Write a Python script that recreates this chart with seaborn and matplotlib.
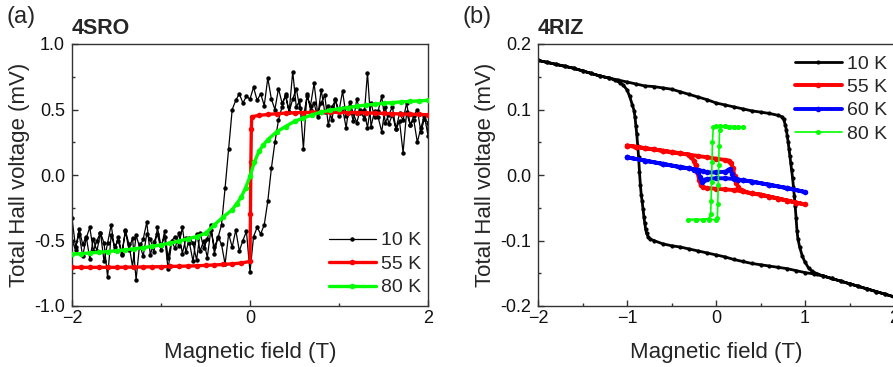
import numpy as np
import pandas as pd
import matplotlib
matplotlib.use("Agg")
import matplotlib.pyplot as plt
import seaborn as sns
from matplotlib.ticker import MultipleLocator

# ---------------- data: panel (a) 4SRO ----------------
# 10 K: sweep up (-2 -> 2, step 0.04) followed by sweep down (2 -> -2)
a10_field_up = [round(-2 + 0.04 * i, 2) for i in range(101)]
a10_up = [-0.33, -0.55, -0.45, -0.62, -0.48, -0.40, -0.58, -0.50, -0.44, -0.66,
          -0.52, -0.38, -0.57, -0.47, -0.60, -0.42, -0.53, -0.70, -0.46, -0.55,
          -0.49, -0.36, -0.61, -0.51, -0.45, -0.57, -0.43, -0.63, -0.50, -0.47,
          -0.54, -0.40, -0.59, -0.48, -0.52, -0.65, -0.44, -0.56, -0.49, -0.38,
          -0.60, -0.47, -0.53, -0.68, -0.45, -0.55, -0.42, -0.58, -0.50, -0.43,
          -0.74, -0.47, -0.40,
          -0.45, -0.38, -0.20, 0.05, 0.25, 0.42, 0.52,
          0.62, 0.48, 0.58, 0.66, 0.51, 0.44, 0.60, 0.53, 0.70, 0.47,
          0.55, 0.61, 0.38, 0.52, 0.57, 0.49, 0.64, 0.45, 0.53, 0.41,
          0.58, 0.47, 0.50, 0.36, 0.55, 0.44, 0.49, 0.60, 0.40, 0.46,
          0.52, 0.35, 0.47, 0.42, 0.55, 0.38, 0.45, 0.50, 0.33, 0.43,
          0.40]
a10_field_down = [round(2 - 0.04 * i, 2) for i in range(101)]
a10_down = [0.30, 0.45, 0.36, 0.25, 0.42, 0.38, 0.48, 0.17, 0.41, 0.35,
            0.46, 0.39, 0.52, 0.33, 0.44, 0.49, 0.37, 0.78, 0.43, 0.50,
            0.40, 0.47, 0.56, 0.36, 0.51, 0.45, 0.58, 0.42, 0.53, 0.48,
            0.65, 0.44, 0.55, 0.50, 0.62, 0.20, 0.57, 0.52, 0.79, 0.48,
            0.60, 0.55, 0.66, 0.50, 0.58, 0.74, 0.53, 0.62, 0.57, 0.67,
            0.58, 0.60, 0.55, 0.62, 0.57,
            0.50, 0.20, -0.10, -0.38, -0.48,
            -0.55, -0.42, -0.63, -0.50, -0.58, -0.45, -0.66, -0.52, -0.48, -0.60,
            -0.44, -0.56, -0.51, -0.72, -0.47, -0.54, -0.40, -0.59, -0.49, -0.45,
            -0.62, -0.53, -0.80, -0.48, -0.57, -0.43, -0.61, -0.50, -0.55, -0.46,
            -0.78, -0.52, -0.44, -0.58, -0.49, -0.64, -0.47, -0.53, -0.41, -0.57,
            -0.50]

# 55 K
a55_field = [-2.0, -1.9, -1.8, -1.7, -1.6, -1.5, -1.4, -1.3, -1.2, -1.1, -1.0,
             -0.9, -0.8, -0.7, -0.6, -0.5, -0.4, -0.3, -0.2, -0.1, 0.0,
             0.005, 0.01, 0.015, 0.02, 0.1, 0.2, 0.3, 0.4, 0.5, 0.6, 0.7, 0.8, 0.9,
             1.0, 1.1, 1.2, 1.3, 1.4, 1.5, 1.6, 1.7, 1.8, 1.9, 2.0]
a55_volt = [-0.705, -0.705, -0.705, -0.705, -0.705, -0.705, -0.704, -0.703, -0.702,
            -0.701, -0.700, -0.698, -0.697, -0.695, -0.693, -0.690, -0.687, -0.683,
            -0.678, -0.672, -0.660,
            -0.30, 0.10, 0.35, 0.445, 0.455, 0.462, 0.468, 0.472, 0.475, 0.477,
            0.478, 0.479, 0.479, 0.478, 0.477, 0.476, 0.474, 0.472, 0.470, 0.468,
            0.466, 0.464, 0.462, 0.460]

# 80 K
a80_field = [-2.0, -1.9, -1.8, -1.7, -1.6, -1.5, -1.4, -1.3, -1.2, -1.1, -1.0,
             -0.9, -0.8, -0.7, -0.6, -0.5, -0.4, -0.3, -0.2, -0.15, -0.1, -0.05,
             0.0, 0.05, 0.1, 0.15, 0.2, 0.3, 0.4, 0.5, 0.6, 0.7, 0.8, 0.9, 1.0,
             1.1, 1.2, 1.3, 1.4, 1.5, 1.6, 1.7, 1.8, 1.9, 2.0]
a80_volt = [-0.605, -0.600, -0.595, -0.590, -0.584, -0.578, -0.571, -0.563, -0.555,
            -0.545, -0.533, -0.520, -0.505, -0.487, -0.470, -0.445, -0.38, -0.32,
            -0.265, -0.22, -0.17, -0.10, -0.01, 0.10, 0.18, 0.23, 0.27, 0.33, 0.37,
            0.41, 0.435, 0.46, 0.48, 0.495, 0.505, 0.515, 0.525, 0.533, 0.540,
            0.547, 0.553, 0.558, 0.562, 0.566, 0.570]

# ---------------- data: panel (b) 4RIZ ----------------
b10_field = [-2.0, -1.9, -1.8, -1.7, -1.6, -1.5, -1.4, -1.3, -1.2, -1.1, -1.0, -0.9,
             -0.8, -0.7, -0.6, -0.5, -0.4, -0.3, -0.2, -0.1, 0.0, 0.1, 0.2, 0.3, 0.4,
             0.5, 0.6, 0.7, 0.74, 0.76, 0.78, 0.79, 0.80, 0.81, 0.82, 0.83, 0.84,
             0.85, 0.86, 0.87, 0.88, 0.89, 0.90, 0.91, 0.92, 0.94, 0.97, 1.0, 1.04,
             1.08, 1.14, 1.2, 1.3, 1.4, 1.5, 1.6, 1.7, 1.8, 1.9, 2.0,
             1.9, 1.8, 1.7, 1.6, 1.5, 1.4, 1.3, 1.2, 1.1, 1.0, 0.9, 0.8, 0.7, 0.6,
             0.5, 0.4, 0.3, 0.2, 0.1, 0.0, -0.1, -0.2, -0.3, -0.4, -0.5, -0.6, -0.7,
             -0.74, -0.76, -0.78, -0.79, -0.80, -0.81, -0.82, -0.83, -0.84, -0.85,
             -0.86, -0.87, -0.88, -0.89, -0.90, -0.91, -0.92, -0.94, -0.97, -1.0,
             -1.04, -1.08, -1.14, -1.2, -1.3, -1.4, -1.5, -1.6, -1.7, -1.8, -1.9, -2.0]
b10_volt = [0.175, 0.172, 0.169, 0.166, 0.163, 0.159, 0.155, 0.151, 0.148, 0.145,
            0.142, 0.139, 0.136, 0.135, 0.133, 0.131, 0.127, 0.123, 0.119, 0.115,
            0.110, 0.107, 0.104, 0.101, 0.098, 0.096, 0.094, 0.091, 0.089, 0.085,
            0.076, 0.069, 0.060, 0.051, 0.040, 0.029, 0.018, 0.007, -0.004, -0.018,
            -0.032, -0.048, -0.066, -0.085, -0.097, -0.110, -0.124, -0.133, -0.142,
            -0.147, -0.151, -0.154, -0.158, -0.162, -0.166, -0.170, -0.174, -0.178,
            -0.182, -0.186,
            -0.182, -0.178, -0.174, -0.170, -0.166, -0.162, -0.158, -0.154, -0.151,
            -0.149, -0.146, -0.143, -0.141, -0.139, -0.137, -0.135, -0.132, -0.129,
            -0.125, -0.122, -0.119, -0.116, -0.113, -0.110, -0.108, -0.105, -0.100,
            -0.098, -0.095, -0.089, -0.083, -0.074, -0.064, -0.052, -0.040, -0.030,
            -0.015, 0.005, 0.028, 0.045, 0.062, 0.075, 0.088, 0.098, 0.107, 0.120,
            0.130, 0.137, 0.141, 0.145, 0.148, 0.151, 0.155, 0.159, 0.163, 0.166,
            0.169, 0.172, 0.175]

b55_field = [-1.0, -0.9, -0.8, -0.7, -0.6, -0.5, -0.4, -0.3, -0.2, -0.1, 0.0, 0.1,
             0.15, 0.17, 0.19, 0.21, 0.23, 0.25, 0.28, 0.3, 0.4, 0.5, 0.6, 0.7, 0.8,
             0.9, 1.0,
             0.9, 0.8, 0.7, 0.6, 0.5, 0.4, 0.3, 0.2, 0.1, 0.0, -0.1, -0.15, -0.17,
             -0.19, -0.21, -0.23, -0.25, -0.28, -0.3, -0.4, -0.5, -0.6, -0.7, -0.8,
             -0.9, -1.0]
b55_volt = [0.045, 0.043, 0.041, 0.039, 0.037, 0.035, 0.033, 0.031, 0.029, 0.027,
            0.025, 0.023, 0.022, 0.019, 0.010, -0.002, -0.012, -0.019, -0.023,
            -0.025, -0.028, -0.030, -0.033, -0.036, -0.039, -0.042, -0.045,
            -0.042, -0.039, -0.036, -0.033, -0.030, -0.028, -0.025, -0.023, -0.022,
            -0.021, -0.020, -0.019, -0.016, -0.007, 0.005, 0.015, 0.022, 0.028,
            0.031, 0.033, 0.035, 0.037, 0.039, 0.041, 0.043, 0.045]

b60_field = [-1.0, -0.8, -0.6, -0.4, -0.3, -0.2, -0.15, -0.1, 0.0, 0.1, 0.14, 0.16,
             0.18, 0.2, 0.25, 0.3, 0.4, 0.6, 0.8, 1.0,
             0.8, 0.6, 0.4, 0.3, 0.2, 0.1, 0.0, -0.1, -0.14, -0.16, -0.18, -0.2,
             -0.25, -0.3, -0.4, -0.6, -0.8, -1.0]
b60_volt = [0.027, 0.022, 0.017, 0.012, 0.010, 0.008, 0.006, 0.004, 0.004, 0.005,
            0.007, 0.009, 0.002, -0.004, -0.007, -0.008, -0.010, -0.015, -0.020,
            -0.026,
            -0.020, -0.015, -0.010, -0.008, -0.006, -0.005, -0.005, -0.006, -0.008,
            -0.011, -0.003, 0.004, 0.008, 0.010, 0.012, 0.017, 0.022, 0.027]

b80_field = [0.3, 0.25, 0.2, 0.15, 0.1, 0.05, 0.0, -0.03, -0.04, -0.045, -0.05,
             -0.055, -0.06, -0.08, -0.15, -0.22, -0.32,
             -0.22, -0.15, -0.08, 0.0, 0.015, 0.02, 0.025, 0.03, 0.035, 0.04, 0.05,
             0.1, 0.15, 0.2, 0.25, 0.3]
b80_volt = [0.073, 0.073, 0.074, 0.074, 0.075, 0.075, 0.075, 0.074, 0.050, 0.020,
            -0.010, -0.040, -0.060, -0.067, -0.068, -0.068, -0.068,
            -0.068, -0.068, -0.068, -0.068, -0.066, -0.045, -0.015, 0.015, 0.045,
            0.068, 0.075, 0.075, 0.074, 0.074, 0.073, 0.073]

labels_a = ["10 K", "55 K", "80 K"]
labels_b = ["10 K", "55 K", "60 K", "80 K"]
colors = {"10 K": "#000000", "55 K": "#ff0000", "60 K": "#0000ff", "80 K": "#00ff00"}

# ---------------- style ----------------
sns.set_style("white")
plt.rcParams["font.family"] = ["Liberation Sans", "DejaVu Sans"]
plt.rcParams["axes.edgecolor"] = "#333333"
plt.rcParams["axes.linewidth"] = 1.0

fig = plt.figure(figsize=(8.93, 3.67), dpi=100)
W, H = 893.0, 367.0
axA = fig.add_axes([72 / W, 61 / H, 356 / W, 262 / H])
axB = fig.add_axes([538 / W, 61 / H, 356 / W, 262 / H])


def draw(ax, field, volt, label, lw, ms, zorder):
    df = pd.DataFrame({"field": field, "volt": volt})
    sns.lineplot(data=df, x="field", y="volt", sort=False, estimator=None,
                 color=colors[label], lw=lw, marker="o", markersize=ms,
                 markeredgewidth=0, label=label, ax=ax, zorder=zorder)


# panel (a)
draw(axA, a10_field_up + a10_field_down, a10_up + a10_down, "10 K", 0.9, 3.2, 2)
draw(axA, a55_field, a55_volt, "55 K", 2.4, 4.0, 3)
draw(axA, a80_field, a80_volt, "80 K", 2.4, 4.0, 4)

# panel (b)
draw(axB, b10_field, b10_volt, "10 K", 2.0, 3.0, 2)
draw(axB, b55_field, b55_volt, "55 K", 2.8, 4.0, 3)
draw(axB, b60_field, b60_volt, "60 K", 2.8, 4.0, 4)
draw(axB, b80_field, b80_volt, "80 K", 1.2, 3.6, 5)

for ax in (axA, axB):
    ax.set_xlim(-2, 2)
    ax.xaxis.set_major_locator(MultipleLocator(2 if ax is axA else 1))
    ax.xaxis.set_minor_locator(MultipleLocator(1 if ax is axA else 0.5))
    ax.tick_params(which="both", direction="in", bottom=True, left=True,
                   top=False, right=False, labelsize=13, color="#333333",
                   labelcolor="#111111", width=1)
    ax.tick_params(axis="y", which="both", pad=5)
    ax.tick_params(axis="x", which="both", pad=3)
    ax.tick_params(which="major", length=4)
    ax.tick_params(which="minor", length=2.5)
    ax.set_xlabel("Magnetic field (T)", fontsize=16, labelpad=11)
    ax.set_ylabel("Total Hall voltage (mV)", fontsize=16, labelpad=3)
    for s in ax.spines.values():
        s.set_visible(True)
        s.set_color("#333333")
        s.set_linewidth(1.0)

axA.set_ylim(-1.0, 1.0)
axA.yaxis.set_major_locator(MultipleLocator(0.5))
axA.yaxis.set_minor_locator(MultipleLocator(0.25))
axA.yaxis.set_major_formatter(matplotlib.ticker.FormatStrFormatter("%.1f"))
axB.set_ylim(-0.2, 0.2)
axB.yaxis.set_major_locator(MultipleLocator(0.1))
axB.yaxis.set_minor_locator(MultipleLocator(0.05))
axB.yaxis.set_major_formatter(matplotlib.ticker.FormatStrFormatter("%.1f"))

legA = axA.legend(loc="lower right", frameon=False, fontsize=14, handlelength=2.4,
                  handletextpad=0.3, labelspacing=0.3, borderaxespad=0.3,
                  numpoints=1, bbox_to_anchor=(1.02, -0.015))
legB = axB.legend(loc="upper right", frameon=False, fontsize=14, handlelength=2.4,
                  handletextpad=0.3, labelspacing=0.3, borderaxespad=0.3,
                  numpoints=1, bbox_to_anchor=(1.02, 1.01))

axA.text(0.0, 1.02, "4SRO", transform=axA.transAxes, fontsize=15.5,
         fontweight="bold", ha="left", va="bottom")
axB.text(0.0, 1.02, "4RIZ", transform=axB.transAxes, fontsize=15.5,
         fontweight="bold", ha="left", va="bottom")
fig.text(6 / W, 1 - 6 / H, "(a)", fontsize=17, ha="left", va="top")
fig.text(463 / W, 1 - 6 / H, "(b)", fontsize=17, ha="left", va="top")

fig.savefig("out.png", dpi=100)
